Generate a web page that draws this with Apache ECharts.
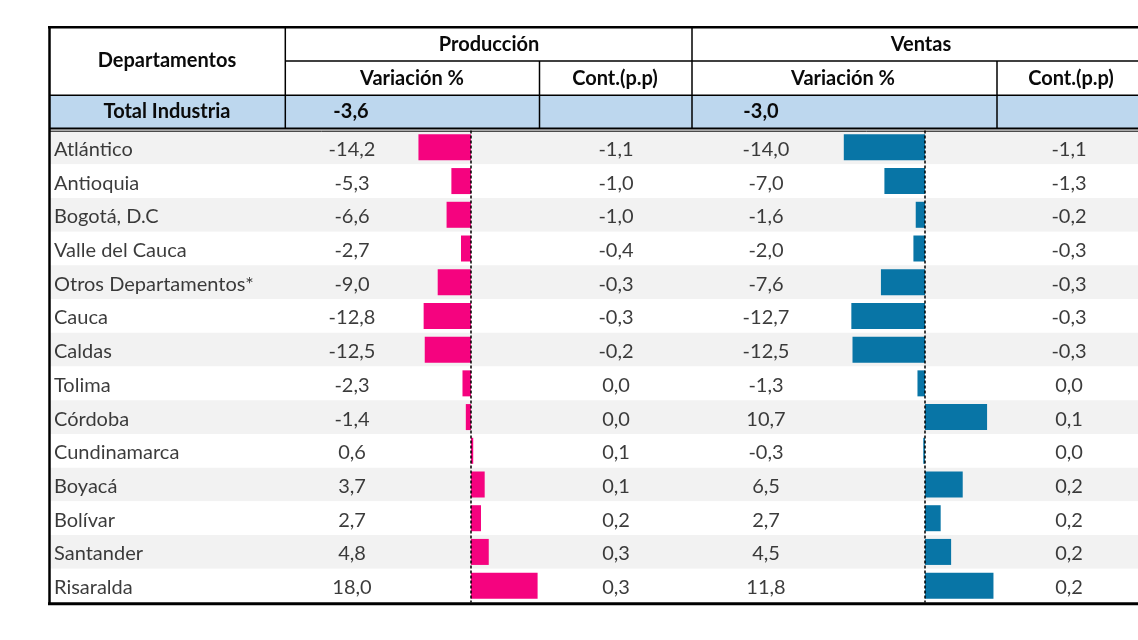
<!DOCTYPE html>
<html>
<head>
<meta charset="utf-8">
<script src="https://cdn.jsdelivr.net/npm/echarts@6/dist/echarts.min.js"></script>
<style>
html,body{margin:0;padding:0;background:#fff;}
#chart{width:1138px;height:640px;}
</style>
</head>
<body>
<div id="chart"></div>
<script>
// ---- data ----
const departamentos = ['Atlántico','Antioquia','Bogotá, D.C','Valle del Cauca','Otros Departamentos*','Cauca','Caldas','Tolima','Córdoba','Cundinamarca','Boyacá','Bolívar','Santander','Risaralda'];
const prodVar  = [-14.2, -5.3, -6.6, -2.7, -9.0, -12.8, -12.5, -2.3, -1.4, 0.6, 3.7, 2.7, 4.8, 18.0];
const prodCont = [-1.1, -1.0, -1.0, -0.4, -0.3, -0.3, -0.2, 0.0, 0.0, 0.1, 0.1, 0.2, 0.3, 0.3];
const ventVar  = [-14.0, -7.0, -1.6, -2.0, -7.6, -12.7, -12.5, -1.3, 10.7, -0.3, 6.5, 2.7, 4.5, 11.8];
const ventCont = [-1.1, -1.3, -0.2, -0.3, -0.3, -0.3, -0.3, 0.0, 0.1, 0.0, 0.2, 0.2, 0.2, 0.2];
const totalLabel = 'Total Industria';
const totalProdVar = -3.6;
const totalVentVar = -3.0;
const headerDept = 'Departamentos';
const groupHeaders = ['Producción','Ventas'];
const subHeaders = ['Variación %','Cont.(p.p)','Variación %','Cont.(p.p)'];

// ---- helpers ----
const fmt = v => v.toFixed(1).replace('.', ',');
const FONT = 'Lato';
const TXT = '#0a0a0a';
const PINK = '#F5037F';
const BLUE = '#0875A6';
const TOP = 130.5, H = 472;

const chart = echarts.init(document.getElementById('chart'));

const grids = [
  {left: 49,  width: 1089}, // 0 names + stripes
  {left: 285, width: 134},  // 1 prodVar text
  {left: 285, width: 255},  // 2 prodVar bars
  {left: 540, width: 152},  // 3 prodCont text
  {left: 692, width: 148},  // 4 ventVar text
  {left: 692, width: 305},  // 5 ventVar bars
  {left: 1000, width: 146}  // 6 ventCont text
].map(g => Object.assign({top: TOP, height: H, containLabel: false}, g));

const xRanges = [[0,1],[0,1],[-50.27,18.65],[0,1],[0,1],[-40.17,12.41],[0,1]];

const xAxes = xRanges.map((r, i) => ({type: 'value', gridIndex: i, min: r[0], max: r[1], show: false}));
const yAxes = grids.map((g, i) => ({
  type: 'category', gridIndex: i, data: departamentos, inverse: true,
  axisLine: {show: false}, axisTick: {show: false},
  splitLine: {show: false},
  splitArea: i === 0 ? {show: true, areaStyle: {color: ['#F2F2F2', '#FFFFFF']}} : {show: false},
  axisLabel: {show: false}
}));

const labelBase = {show: true, offset: [0, 2], fontFamily: FONT, fontSize: 20, color: TXT};

function nameSeries() {
  return {
    type: 'scatter', xAxisIndex: 0, yAxisIndex: 0,
    symbolSize: 0, itemStyle: {color: 'rgba(0,0,0,0)'},
    data: departamentos.map((d, k) => [0, k]),
    label: Object.assign({}, labelBase, {position: 'right', distance: 5,
            formatter: p => departamentos[p.dataIndex]}),
    silent: true, z: 5
  };
}
function textSeries(idx, arr) {
  return {
    type: 'scatter', xAxisIndex: idx, yAxisIndex: idx,
    symbolSize: 0, itemStyle: {color: 'rgba(0,0,0,0)'},
    data: arr.map((v, k) => [0.5, k, v]),
    label: Object.assign({}, labelBase, {position: 'inside', formatter: p => fmt(p.data[2])}),
    silent: true, z: 5
  };
}
function barSeries(idx, arr, color) {
  return {
    type: 'bar', xAxisIndex: idx, yAxisIndex: idx, data: arr, barWidth: 26,
    itemStyle: {color: color}, silent: true, z: 3,
    markLine: {silent: true, symbol: ['none','none'], label: {show: false},
      lineStyle: {color: '#000', type: [3, 2], width: 1.5},
      data: [{xAxis: 0}]}
  };
}

const line = (x1, y1, x2, y2, w) => ({type: 'line', z: 100, shape: {x1, y1, x2, y2}, style: {stroke: '#000', lineWidth: w}});
const text = (t, x, y, bold) => ({type: 'text', z: 101, style: {text: t, x, y, align: 'center', verticalAlign: 'middle', font: (bold ? 'bold ' : '') + '20px ' + FONT, fill: TXT}});

const graphic = [
  {type: 'rect', z: 50, shape: {x: 50, y: 95.5, width: 1100, height: 32.5}, style: {fill: '#BDD7EE'}},
  line(48, 27.2, 1150, 27.2, 2.5),
  line(49.5, 26, 49.5, 605, 2.5),
  line(285.3, 27, 285.3, 128, 1.5),
  line(692, 27, 692, 128, 1.5),
  line(539.5, 61, 539.5, 128, 1.5),
  line(997, 61, 997, 128, 1.5),
  line(285, 61, 1150, 61, 1.5),
  line(49, 95.3, 1150, 95.3, 1.5),
  line(49, 128.5, 1150, 128.5, 2),
  line(49, 131.2, 1150, 131.2, 1),
  line(48, 603.8, 1150, 603.8, 3),
  text(headerDept, 167, 61, true),
  text(groupHeaders[0], 489, 45, true),
  text(groupHeaders[1], 921, 45, true),
  text(subHeaders[0], 412, 79, true),
  text(subHeaders[1], 615, 79, true),
  text(subHeaders[2], 843, 79, true),
  text(subHeaders[3], 1071, 79, true),
  text(totalLabel, 167, 112, true),
  text(fmt(totalProdVar), 351, 112, true),
  text(fmt(totalVentVar), 761, 112, true)
];

chart.setOption({
  animation: false,
  backgroundColor: '#fff',
  grid: grids,
  xAxis: xAxes,
  yAxis: yAxes,
  graphic: graphic,
  series: [
    nameSeries(),
    textSeries(1, prodVar),
    barSeries(2, prodVar, PINK),
    textSeries(3, prodCont),
    textSeries(4, ventVar),
    barSeries(5, ventVar, BLUE),
    textSeries(6, ventCont)
  ]
});
</script>
</body>
</html>
